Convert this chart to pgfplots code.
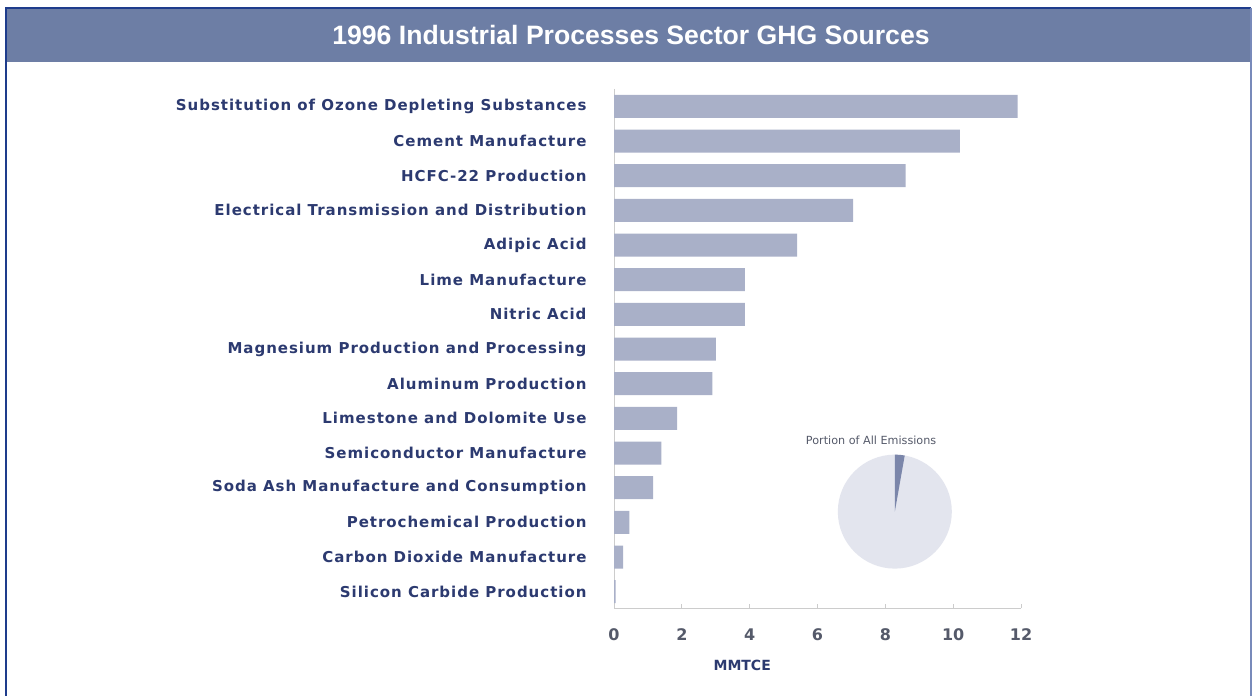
\documentclass[border=0pt]{standalone}
\usepackage{pgfplots}
\pgfplotsset{compat=1.18}
\usepackage{fontspec}
\setmainfont{DejaVu Sans}
\newfontfamily\labfont[LetterSpace=6.5]{DejaVu Sans}
\newfontfamily\titlefont{Liberation Sans}
\definecolor{band}{HTML}{6D7EA5}
\definecolor{frame}{HTML}{1E3C8C}
\definecolor{barc}{HTML}{A9B0C8}
\definecolor{labc}{HTML}{2C3A70}
\definecolor{tickc}{HTML}{555A6A}
\definecolor{pielight}{HTML}{E3E5EE}
\definecolor{piedark}{HTML}{7B86AA}
\begin{document}
\begin{tikzpicture}[x=1pt,y=1pt]
\useasboundingbox (0,0) rectangle (1253,696);
\fill[white] (0,0) rectangle (1253,696);
\fill[band] (7,634) rectangle (1251,687);
\draw[frame, line width=2pt] (6,-5) -- (6,688) -- (1251,688);
\draw[frame!60, line width=1.2pt] (1251,688) -- (1251,-5);
\node[text=white, font=\titlefont\bfseries\fontsize{26.6}{30}\selectfont] at (631,661) {1996 Industrial Processes Sector GHG Sources};
\begin{axis}[
  at={(614pt,88pt)}, anchor=south west,
  scale only axis, width=407pt, height=519pt,
  xmin=0, xmax=12, ymin=-0.5, ymax=14.47,
  y dir=reverse,
  xbar, bar width=23pt,
  axis x line*=bottom, axis y line*=left,
  axis line style={draw=gray!40, line width=1pt},
  xtick={0,2,...,12},
  xtick style={draw=gray!40, line width=1pt},
  tick align=inside, major tick length=4pt,
  ytick={0,...,14}, ytick style={draw=none},
  yticklabels={Substitution of Ozone Depleting Substances, Cement Manufacture, HCFC-22 Production, Electrical Transmission and Distribution, Adipic Acid, Lime Manufacture, Nitric Acid, Magnesium Production and Processing, Aluminum Production, Limestone and Dolomite Use, Semiconductor Manufacture, Soda Ash Manufacture and Consumption, Petrochemical Production, Carbon Dioxide Manufacture, Silicon Carbide Production},
  yticklabel style={font=\labfont\bfseries\fontsize{15}{18}\selectfont, text=labc, xshift=-24pt},
  xticklabel style={font=\bfseries\fontsize{16}{19}\selectfont, text=tickc, yshift=-17pt},
  /pgf/number format/assume math mode=true,
  clip=false,
]
\addplot[fill=barc, draw=none] coordinates {
(11.9,0) (10.2,1) (8.6,2) (7.05,3) (5.4,4) (3.86,5) (3.86,6) (3.0,7) (2.9,8) (1.86,9) (1.4,10) (1.15,11) (0.45,12) (0.27,13) (0.05,14)};
\node[text=labc, font=\bfseries\fontsize{14}{17}\selectfont] at (axis cs:3.78,16.12) {MMTCE};
\node[text=tickc, font=\fontsize{11.2}{13}\selectfont] at (axis cs:7.58,9.64) {Portion of All Emissions};
\fill[pielight] (axis cs:8.28,11.69) circle[radius=57pt];
\fill[piedark] (axis cs:8.28,11.69) -- +(90:57pt) arc[start angle=90, end angle=80, radius=57pt] -- cycle;
\end{axis}
\end{tikzpicture}
\end{document}
